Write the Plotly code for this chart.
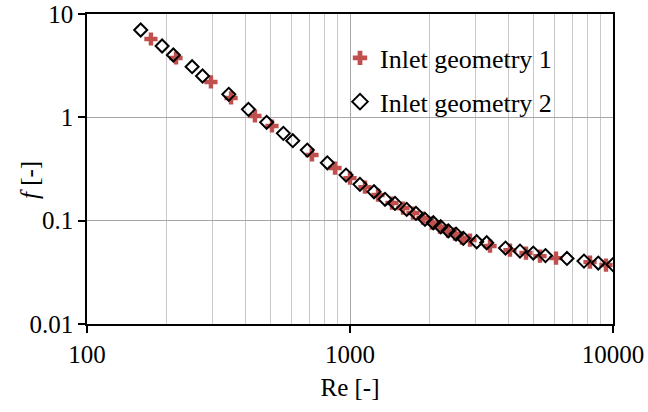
import plotly.graph_objects as go

# Friction factor vs Reynolds number for two inlet geometries
re_geom1 = [175, 218, 296, 353, 435, 505, 717, 877, 1000, 1140, 1278, 1444, 1591,
            1736, 1895, 2050, 2199, 2359, 2507, 2666, 2860, 3407, 4057, 4668, 5276,
            6070, 8177, 9403]
f_geom1 = [5.73, 3.75, 2.20, 1.54, 1.03, 0.824, 0.432, 0.323, 0.258, 0.211, 0.177,
           0.148, 0.1324, 0.1185, 0.106, 0.0948, 0.0867, 0.0793, 0.0742, 0.0679,
           0.0649, 0.0568, 0.0519, 0.0486, 0.0454, 0.0434, 0.0397, 0.0372]

re_geom2 = [160, 193, 213, 251, 275, 346, 411, 482, 558, 606, 688, 820, 966, 1091,
            1234, 1359, 1483, 1643, 1782, 1928, 2074, 2213, 2364, 2530, 2697, 3032,
            3310, 3902, 4430, 4977, 5537, 6683, 7757, 8790, 10000]
f_geom2 = [7.0, 4.90, 4.01, 3.09, 2.51, 1.67, 1.195, 0.895, 0.70, 0.594, 0.482,
           0.363, 0.276, 0.2245, 0.1905, 0.161, 0.147, 0.1286, 0.1177, 0.103,
           0.0955, 0.0873, 0.0798, 0.0742, 0.0674, 0.0625, 0.0611, 0.0543, 0.0508,
           0.0486, 0.0459, 0.0431, 0.0406, 0.0389, 0.0376]

series_names = ["Inlet geometry 1", "Inlet geometry 2"]
y_tickvals = [0.01, 0.1, 1, 10]
y_ticktext = ["0.01", "0.1", "1", "10"]
x_tickvals = [100, 1000, 10000]
x_ticktext = ["100", "1000", "10000"]
x_title = "Re [-]"
y_title = "<i>f</i> [-]"

FONT = "Liberation Serif"
RED = "#C0504D"
serif = dict(family=FONT, size=25, color="black")

fig = go.Figure()
fig.add_trace(go.Scatter(
    x=re_geom1, y=f_geom1, mode="markers", name=series_names[0],
    legendgroup="g1",
    marker=dict(symbol="cross", size=11, color=RED, line=dict(width=0)),
))
fig.add_trace(go.Scatter(
    x=re_geom2, y=f_geom2, mode="markers", name=series_names[1],
    legendgroup="g2",
    marker=dict(symbol="diamond-open", size=10, color="black",
                line=dict(width=2, color="black")),
))

# white panel behind the legend, covering the gridlines
fig.add_shape(type="rect", xref="paper", yref="paper",
              x0=0.448, x1=0.962, y0=0.626, y1=0.942,
              fillcolor="white", line=dict(width=0), layer="between")

# y-axis title, placed a little closer to the tick labels than the axis title would sit
fig.add_annotation(text=y_title, xref="paper", yref="paper", x=-0.108, y=0.465,
                   xanchor="center", yanchor="middle", textangle=-90,
                   showarrow=False, font=serif)

fig.update_layout(
    width=648, height=412,
    margin=dict(l=87, r=35, t=14, b=88, autoexpand=False),
    paper_bgcolor="white", plot_bgcolor="white",
    font=serif,
    showlegend=True,
    legend=dict(x=0.481, y=0.934, xanchor="left", yanchor="top",
                bgcolor="rgba(0,0,0,0)", font=dict(family=FONT, size=26, color="black"),
                tracegroupgap=7, itemsizing="constant"),
    xaxis=dict(
        type="log", range=[2, 4], automargin=False,
        tickvals=x_tickvals, ticktext=x_ticktext, tickfont=serif,
        ticks="outside", ticklen=7, tickwidth=1.5, tickcolor="black",
        showline=True, linecolor="black", linewidth=1.5, mirror=True,
        showgrid=True, gridcolor="#A6A6A6", gridwidth=1.3,
        minor=dict(showgrid=True, gridcolor="#C8C8C8", gridwidth=1.3,
                   dtick="D1", ticks=""),
        title=dict(text=x_title, font=serif, standoff=12),
        zeroline=False,
    ),
    yaxis=dict(
        type="log", range=[-2, 1], automargin=False,
        tickvals=y_tickvals, ticktext=y_ticktext, tickfont=serif,
        ticks="outside", ticklen=7, tickwidth=1.5, tickcolor="black",
        showline=True, linecolor="black", linewidth=1.5, mirror=True,
        showgrid=True, gridcolor="#A6A6A6", gridwidth=1.3,
        zeroline=False,
    ),
)

fig.write_html("out.html")
